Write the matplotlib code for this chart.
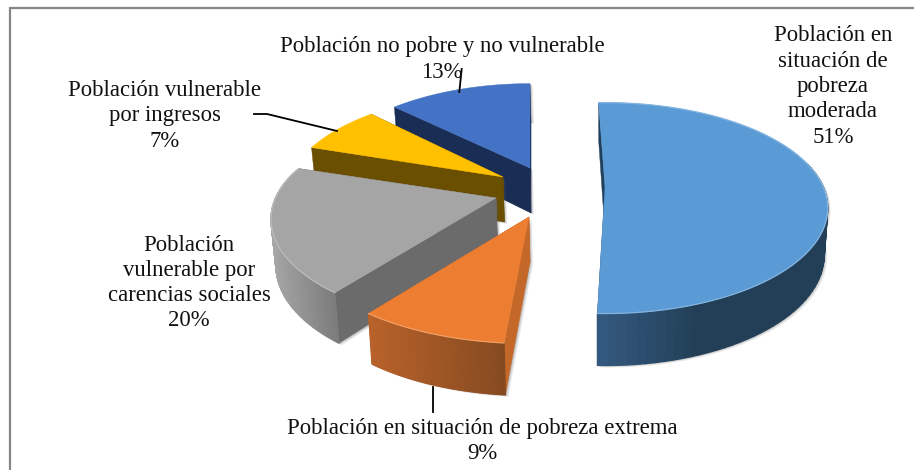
import numpy as np
import matplotlib
matplotlib.use("Agg")
import matplotlib.pyplot as plt
from matplotlib.collections import PolyCollection
from matplotlib.colors import to_rgb

# --- data ---
categories = ["Población en\nsituación de\npobreza\nmoderada",
              "Población en situación de pobreza extrema",
              "Población\nvulnerable por\ncarencias sociales",
              "Población vulnerable\npor ingresos",
              "Población no pobre y no vulnerable"]
shares = [51, 9, 20, 7, 13]

# --- styling / layout, one entry per slice ---
colors_top = ["#5b9bd5", "#ed7d31", "#a5a5a5", "#ffc000", "#4472c4"]
wall_radial = ["#1f3f5c", "#c4682a", "#6b6b6b", "#6b4f00", "#1a2d55"]
arc_left = ["#355b82", "#b8622a", "#a6a6a6", "#6b4f00", "#1a2d55"]
arc_right = ["#223f57", "#864a20", "#7c7c7c", "#6b4f00", "#1a2d55"]
apex = [(605, 187), (529, 217), (496, 198), (503, 177), (530, 168)]
start_shift = [-2, 1.5, 2, 0, 0]
end_shift = [-2, 0.8, 0, 2, 0]
x_scale = [0.97, 1.0, 0.98, 0.95, 0.94]
label_xy = [(833, 86.5), (482, 441), (189, 283), (165, 116), (442, 59.5)]
R, P, TILT, DEPTH, VANISH, LEAN = 225.0, 0.2, 0.45, 45.0, 600.0, 0.015
FONT = "Liberation Serif"
FS = 16.4

fig = plt.figure(figsize=(9.14, 4.70), dpi=100)
ax = fig.add_axes([0, 0, 1, 1])
ax.set_xlim(0, 914)
ax.set_ylim(470, 0)
ax.axis("off")


def top_pt(theta, c, sx):
    t = np.radians(theta)
    u, vf = np.sin(t), -np.cos(t)
    den = 1 - P * vf
    return np.column_stack([c[0] + sx * R * u / den,
                            c[1] + R * TILT * vf / den])


def bot_pt(theta, c, sx):
    t = np.radians(theta)
    p = top_pt(theta, c, sx)
    vf = -np.cos(t)
    d = DEPTH * (1 + 0.155 * vf)
    return np.column_stack([p[:, 0] + (VANISH - p[:, 0]) * LEAN, p[:, 1] + d])


def base_pt(c):
    return np.array([c[0] + (VANISH - c[0]) * LEAN, c[1] + DEPTH])


def mix(a, b, f):
    a, b = np.array(to_rgb(a)), np.array(to_rgb(b))
    return tuple(a + (b - a) * f)


edges = np.cumsum([0] + shares) / sum(shares) * 360.0
order = [4, 3, 2, 1, 0]

for i in order:
    a0 = edges[i] + start_shift[i]
    a1 = edges[i + 1] + end_shift[i]
    c = apex[i]
    sx = x_scale[i]
    th = np.linspace(a0, a1, 90)
    top = top_pt(th, c, sx)
    bot = bot_pt(th, c, sx)
    ctr = np.array([c])
    ctr_b = base_pt(c)[None, :]
    z = 3 + order.index(i)

    # soft shadow of the silhouette
    sil = np.vstack([ctr, top, bot[::-1], ctr_b])
    for off, al in ((3.0, .10), (2.0, .14), (1.0, .18)):
        ax.fill(sil[:, 0] + off, sil[:, 1] + off * .7, color="#555555",
                alpha=al, lw=0, zorder=z - .5)

    # radial walls
    for th_w in (a0, a1):
        e = top_pt(np.array([th_w]), c, sx)
        eb = bot_pt(np.array([th_w]), c, sx)
        ax.fill(*np.vstack([ctr, e, eb, ctr_b]).T, color=wall_radial[i], lw=0.3, zorder=z)

    # outer curved wall with gradient
    if i in (0, 1, 2):
        quads, cols = [], []
        xs = top[:, 0]
        for k in range(len(th) - 1):
            if np.cos(np.radians(th[k])) > 0.25:
                continue
            quads.append([top[k], top[k + 1], bot[k + 1], bot[k]])
            f = (xs[k] - xs.min()) / (xs.max() - xs.min())
            if i == 0:
                f = min(f / 0.45, 1)
            cols.append(mix(arc_left[i], arc_right[i], f))
        ax.add_collection(PolyCollection(quads, facecolors=cols, edgecolors=cols,
                                         linewidths=0.9, zorder=z))

    # top surface
    poly = np.vstack([ctr, top])
    ax.fill(*poly.T, color=colors_top[i], lw=0.3, zorder=z + .1)
    if i in (0, 1, 2):
        ax.plot(top[:, 0], top[:, 1], color=mix(colors_top[i], "#ffffff", .25), lw=0.9,
                zorder=z + .2, solid_capstyle="round")

# leader lines
lk = dict(color="black", lw=1.3, zorder=20)
ax.plot([461.7, 459.3], [69, 92], **lk)
ax.plot([254, 267, 337], [114, 114, 131], **lk)
ax.plot([433, 433], [387, 412], **lk)

# labels
for name, val, (x, y) in zip(categories, shares, label_xy):
    ax.text(x, y, f"{name}\n{val}%", ha="center", va="center", multialignment="center",
            family=FONT, fontsize=FS, color="#111111", linespacing=1.27, zorder=21)

# chart frame (left and top edges visible in the crop)
ax.plot([10, 10, 914], [470, 8, 8], color="#868686", lw=1.6, zorder=1, solid_joinstyle="miter")

fig.savefig("out.png", dpi=100)
